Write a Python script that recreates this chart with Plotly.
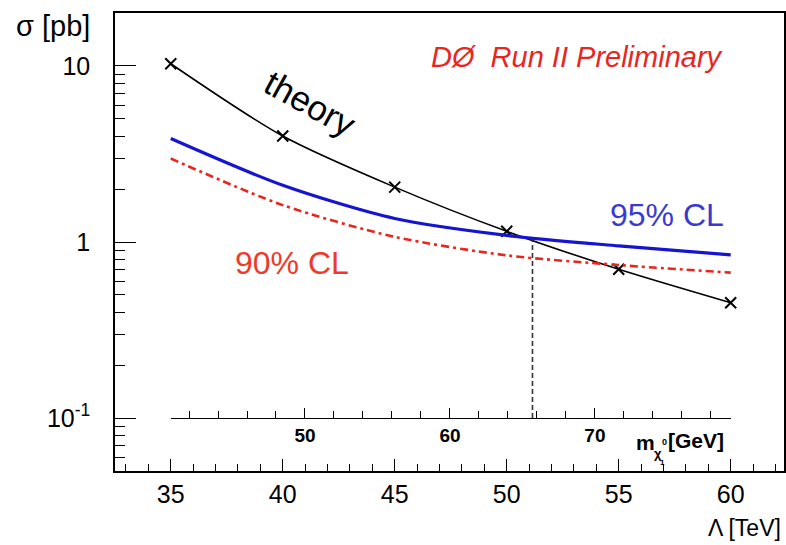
import plotly.graph_objects as go
import numpy as np

# --- data -------------------------------------------------------------
lam = [35, 40, 45, 50, 55, 60]                      # Lambda [TeV]
sigma_theory = [10.3, 4.0, 2.05, 1.15, 0.70, 0.452]  # theory cross section [pb]
limit_95 = [3.87, 2.1, 1.36, 1.09, 0.95, 0.845]      # 95% CL upper limit [pb]
limit_90 = [2.98, 1.62, 1.07, 0.84, 0.74, 0.67]      # 90% CL upper limit [pb]

lam_excl = 51.15      # crossing of theory and 95% CL limit [TeV]
sigma_excl = 1.04     # cross section at the crossing [pb]

# neutralino mass scale matching Lambda = 35 ... 60 TeV
m_at_lam_lo = 40.74   # GeV at Lambda = 35
m_at_lam_hi = 79.37   # GeV at Lambda = 60
m_major = [50, 60, 70]
m_minor = [v for v in range(42, 80, 2) if v not in (50, 60, 70)]

y_ticks = [0.1, 1, 10]
y_tick_text = ["10<sup>-1</sup>", "1", "10"]
y_minor = [f * 10.0 ** e for e in (-2, -1, 0, 1) for f in range(2, 10)]
y_minor = [v for v in y_minor if 0.05 <= v <= 20 and v not in (0.1, 1, 10)]

# --- geometry ---------------------------------------------------------
W, H = 786, 545
L, R, T, B = 115, 0, 13, 74
x_lo, x_hi = 32.51, 62.38
y_lo, y_hi = 0.05, 20.0

def px(xp):
    return (xp - L) / (W - L - R)

def py(yp):
    return (H - B - yp) / (H - T - B)

def lam_frac(v):
    return (v - x_lo) / (x_hi - x_lo)

def logy_frac(v):
    return (np.log10(v) - np.log10(y_lo)) / (np.log10(y_hi) - np.log10(y_lo))

FONT = "Liberation Sans, Arial, sans-serif"

fig = go.Figure()

# invisible carrier so that the inner mass axis gets drawn
fig.add_trace(go.Scatter(
    x=[m_at_lam_lo, m_at_lam_hi], y=[y_ticks[0], y_ticks[0]], mode="lines",
    xaxis="x2", yaxis="y", line=dict(width=0), opacity=0,
    showlegend=False, hoverinfo="skip"))

# theory curve with markers
fig.add_trace(go.Scatter(
    x=lam, y=sigma_theory, mode="lines+markers",
    line=dict(color="black", width=1.6, shape="spline", smoothing=0.8),
    marker=dict(symbol="x-thin", size=11, line=dict(color="black", width=2)),
    showlegend=False, hoverinfo="skip"))

# 95% CL limit
fig.add_trace(go.Scatter(
    x=lam, y=limit_95, mode="lines",
    line=dict(color="#1414d2", width=3.2, shape="spline", smoothing=0.8),
    showlegend=False, hoverinfo="skip"))

# 90% CL limit
fig.add_trace(go.Scatter(
    x=lam, y=limit_90, mode="lines",
    line=dict(color="#e8261e", width=2.6, dash="8px,4px,3px,4px",
              shape="spline", smoothing=0.8),
    showlegend=False, hoverinfo="skip"))

# exclusion marker down to the mass axis
fig.add_trace(go.Scatter(
    x=[lam_excl, lam_excl], y=[y_ticks[0], sigma_excl], mode="lines",
    line=dict(color="#333333", width=1.6, dash="5px,3px"),
    showlegend=False, hoverinfo="skip"))

fig.update_layout(
    width=W, height=H,
    margin=dict(l=L, r=R, t=T, b=B, pad=0),
    paper_bgcolor="white", plot_bgcolor="rgba(0,0,0,0)",
    font=dict(family=FONT, color="black"),
    xaxis=dict(
        range=[x_lo, x_hi], showgrid=False, zeroline=False,
        showline=True, linecolor="black", linewidth=1.5, mirror=True,
        tickmode="array", tickvals=list(range(35, 61, 5)),
        ticks="inside", ticklen=12, tickwidth=1.3, tickcolor="black",
        tickfont=dict(size=25, family=FONT),
        minor=dict(tickmode="array",
                   tickvals=[v for v in range(33, 63) if v % 5],
                   ticks="inside", ticklen=7, tickwidth=1.3, tickcolor="black"),
    ),
    yaxis=dict(
        type="log", range=[np.log10(y_lo), np.log10(y_hi)],
        showgrid=False, zeroline=False,
        showline=True, linecolor="black", linewidth=1.5, mirror=True,
        tickmode="array", tickvals=y_ticks, ticktext=y_tick_text,
        ticks="inside", ticklen=21, tickwidth=1.3, tickcolor="black",
        tickfont=dict(size=25, family=FONT), ticklabelstandoff=18,
        minor=dict(tickmode="array", tickvals=y_minor,
                   ticks="inside", ticklen=10, tickwidth=1.3, tickcolor="black"),
    ),
    xaxis2=dict(
        domain=[lam_frac(35), lam_frac(60)], anchor="free",
        position=logy_frac(y_ticks[0]),
        range=[m_at_lam_lo, m_at_lam_hi], showgrid=False, zeroline=False,
        showline=True, linecolor="black", linewidth=1.3,
        tickmode="array", tickvals=m_major, side="bottom",
        ticks="inside", ticklen=10, tickwidth=1.3, tickcolor="black",
        tickfont=dict(size=19, family=FONT, weight="bold"),
        minor=dict(tickmode="array", tickvals=m_minor,
                   ticks="inside", ticklen=7, tickwidth=1.3, tickcolor="black"),
    ),
)

ann = []

def label(text, x, y, size, color="black", xanchor="center", yanchor="middle",
          angle=0, style="normal", weight="normal", family=FONT):
    ann.append(dict(text=text, x=px(x), y=py(y), xref="paper", yref="paper",
                    xanchor=xanchor, yanchor=yanchor, textangle=angle,
                    showarrow=False,
                    font=dict(size=size, color=color, family=family,
                              style=style, weight=weight)))

label("σ [pb]", 92, 26, 29, xanchor="right")
label("Λ [TeV]", 785, 528, 23, xanchor="right")
label("DØ  Run II Preliminary", 727, 57, 29, color="#e8261e",
      xanchor="right", style="italic")
label("theory", 311, 104, 35, angle=29)
label("95% CL", 669, 215, 32, color="#3a3ad0")
label("90% CL", 293, 263, 32, color="#ee3a2a")

# mass axis title
label("m", 636, 442, 21, xanchor="left", weight="bold")
label("χ", 654, 453, 13, xanchor="left", weight="bold")
label("0", 662, 442, 9, xanchor="left", weight="bold")
label("1", 660, 462, 8, xanchor="left", weight="bold")
label("[GeV]", 668, 440, 21, xanchor="left", weight="bold")

fig.update_layout(annotations=ann)

fig.write_html("out.html")
